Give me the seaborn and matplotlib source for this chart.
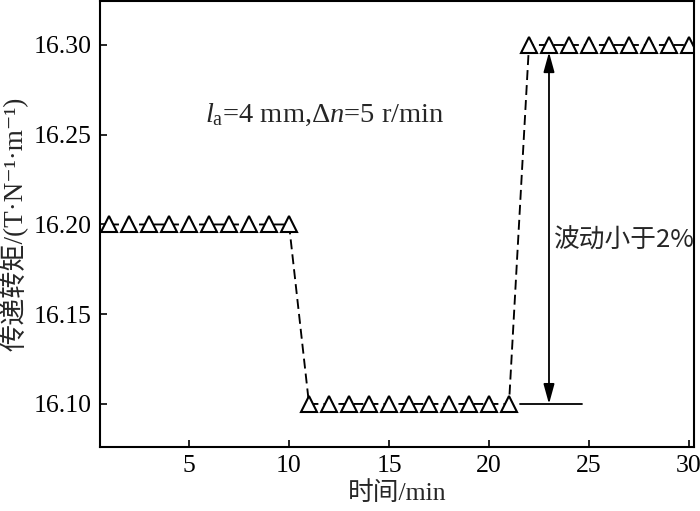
import numpy as np
import pandas as pd
import matplotlib
matplotlib.use("Agg")
import matplotlib.pyplot as plt
import seaborn as sns

# ---- data ----
time_min = list(range(1, 31))
torque = [16.20] * 10 + [16.10] * 11 + [16.30] * 9
x_ticks = [5, 10, 15, 20, 25, 30]
y_ticks = [16.10, 16.15, 16.20, 16.25, 16.30]
ref_low = 16.10
ref_high = 16.30

sns.set_theme(style="white")
plt.rcParams['font.family'] = ['Liberation Serif', 'Noto Sans CJK SC', 'DejaVu Sans']
plt.rcParams['mathtext.fontset'] = 'custom'
plt.rcParams['mathtext.rm'] = 'Liberation Serif'
plt.rcParams['mathtext.it'] = 'Liberation Serif:italic'

df = pd.DataFrame({"t": time_min, "T": torque})

fig = plt.figure(figsize=(7.0, 5.11), dpi=100)
ax = fig.add_axes([0.1429, 0.1252, 0.8485, 0.8728])

sns.lineplot(data=df, x="t", y="T", ax=ax, color="black", linewidth=1.35,
             marker="^", markersize=11, markerfacecolor="white",
             markeredgecolor="black", markeredgewidth=1.5)
for ln in ax.get_lines():
    ln.set_dashes([5.3, 2.7])

# reference line and double arrow
ax.plot([21.55, 24.65], [ref_low, ref_low], color="black", lw=1.3)
ax.annotate("", xy=(23, ref_high - 0.004), xytext=(23, ref_low),
            arrowprops=dict(arrowstyle="<|-|>,head_length=1.2,head_width=0.33",
                            color="black", lw=1.3, shrinkA=0, shrinkB=0,
                            mutation_scale=10))

ax.text(23.25, 16.191, "波动小于2%", fontsize=18.5, va="center", ha="left",
        family=['Noto Sans CJK SC', 'DejaVu Sans'])
ax.text(5.8, 16.261, r"$l_{\rm a}$=4 mm,Δ$n$=5 r/min", fontsize=20.5,
        va="center", ha="left")

ax.set_xlim(0.55, 30.25)
ax.set_ylim(16.076, 16.3245)
ax.set_xticks(x_ticks)
ax.set_yticks(y_ticks)
ax.set_yticklabels([f"{v:.2f}" for v in y_ticks])
ax.tick_params(direction="in", length=5, width=1.2, labelsize=18.5, pad=6,
               colors="black", left=True, bottom=True, top=False, right=False)
for s in ax.spines.values():
    s.set_color("black")
    s.set_linewidth(1.5)

ax.set_xlabel("时间/min", fontsize=18.5, labelpad=3)
ax.set_ylabel("传递转矩/(T·N⁻¹·m⁻¹)", fontsize=19.5, labelpad=4)

fig.savefig("out.png", dpi=100)
